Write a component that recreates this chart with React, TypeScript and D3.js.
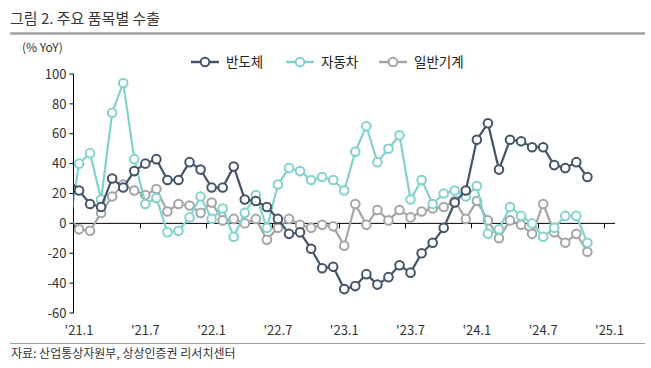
import { useEffect, useRef } from 'react';
import * as d3 from 'd3';

// months on the category axis ('20.12 is only the clipped lead-in point)
const months = [
  '20.12',
  '21.1', '21.2', '21.3', '21.4', '21.5', '21.6', '21.7', '21.8', '21.9', '21.10', '21.11', '21.12',
  '22.1', '22.2', '22.3', '22.4', '22.5', '22.6', '22.7', '22.8', '22.9', '22.10', '22.11', '22.12',
  '23.1', '23.2', '23.3', '23.4', '23.5', '23.6', '23.7', '23.8', '23.9', '23.10', '23.11', '23.12',
  '24.1', '24.2', '24.3', '24.4', '24.5', '24.6', '24.7', '24.8', '24.9', '24.10', '24.11', '24.12',
  '25.1',
];

const tickMonths = ['21.1', '21.7', '22.1', '22.7', '23.1', '23.7', '24.1', '24.7', '25.1'];
const tickLabels = ["'21.1", "'21.7", "'22.1", "'22.7", "'23.1", "'23.7", "'24.1", "'24.7", "'25.1"];
const yTicks = [-60, -40, -20, 0, 20, 40, 60, 80, 100];

// % YoY, '20.12 ~ '24.11
const semis = [
  30, 22, 13, 11, 30, 24, 35, 40, 43, 29, 29, 41, 36,
  24, 24, 38, 16, 15, 11, 3, -7, -6, -17, -30, -29,
  -44, -42, -34, -41, -36, -28, -33, -20, -13, -3, 14, 22,
  56, 67, 36, 56, 55, 51, 51, 39, 37, 41, 31,
];
const autos = [
  -9, 40, 47, 16, 74, 94, 43, 13, 17, -6, -5, 4, 18,
  3, 10, -9, 7, 19, -3, 26, 37, 35, 29, 31, 29,
  22, 48, 65, 41, 50, 59, 16, 29, 13, 20, 22, 18,
  25, -7, -4, 11, 5, 0, -9, -3, 5, 5, -13,
];
const machinery = [
  5, -4, -5, 7, 18, 26, 22, 19, 23, 8, 13, 12, 7,
  14, 2, 3, 0, 3, -11, -3, 3, -1, -3, -1, -2,
  -15, 13, -1, 9, 2, 9, 4, 8, 10, 11, 15, 3,
  15, 2, -10, 2, -1, -7, 13, -6, -13, -7, -19,
];

const seriesNames = ['반도체', '자동차', '일반기계'];
const seriesColors = ['#44546a', '#82d2cd', '#a5a5a5'];
const seriesValues = [semis, autos, machinery];

const FONT = "'Noto Sans CJK KR', 'Noto Sans', sans-serif";

export default function App() {
  const svgRef = useRef<SVGSVGElement>(null);

  useEffect(() => {
    if (!svgRef.current) return;
    const width = 651;
    const height = 368;
    const left = 73.5;
    const right = 615;
    const top = 74;
    const bottom = 313;

    const svg = d3.select(svgRef.current);
    svg.selectAll('*').remove();
    svg.attr('width', width).attr('height', height).attr('viewBox', `0 0 ${width} ${height}`);

    const bw = (right - left) / (months.length - 1);
    const x = d3.scaleBand<string>().domain(months).range([left - bw, right]);
    const cx = (m: string) => (x(m) ?? 0) + x.bandwidth() / 2;
    const y = d3.scaleLinear().domain([-60, 100]).range([bottom, top]);

    // header
    svg.append('text')
      .attr('x', 10).attr('y', 24)
      .attr('font-family', FONT).attr('font-size', 15).attr('fill', '#3a3a3a')
      .text('그림 2. 주요 품목별 수출');
    svg.append('line')
      .attr('x1', 10).attr('x2', 645).attr('y1', 33.5).attr('y2', 33.5)
      .attr('stroke', '#a0a0a0').attr('stroke-width', 2.5);
    svg.append('text')
      .attr('x', 22).attr('y', 52)
      .attr('font-family', FONT).attr('font-size', 12).attr('fill', '#333')
      .text('(% YoY)');

    // legend
    const legendX = [191, 286, 379];
    seriesNames.forEach((name, i) => {
      const lg = svg.append('g').attr('transform', `translate(${legendX[i]},62)`);
      lg.append('line').attr('x1', 0).attr('x2', 28).attr('stroke', seriesColors[i]).attr('stroke-width', 2.5);
      lg.append('circle').attr('cx', 14).attr('r', 4.3)
        .attr('fill', '#fff').attr('stroke', seriesColors[i]).attr('stroke-width', 2);
      lg.append('text').attr('x', 35).attr('dy', '0.35em')
        .attr('font-family', FONT).attr('font-size', 13.5).attr('fill', '#222')
        .text(name);
    });

    // y axis
    svg.append('line')
      .attr('x1', left).attr('x2', left).attr('y1', y(100)).attr('y2', y(-60))
      .attr('stroke', '#000').attr('stroke-width', 1);
    const yt = svg.append('g').selectAll('g').data(yTicks).join('g')
      .attr('transform', (d) => `translate(0,${y(d)})`);
    yt.append('line').attr('x1', left - 4).attr('x2', left).attr('stroke', '#000');
    yt.append('text')
      .attr('x', left - 7).attr('dy', '0.36em').attr('text-anchor', 'end')
      .attr('font-family', FONT).attr('font-size', 13).attr('fill', '#333')
      .text((d) => d);

    // x axis at zero
    svg.append('line')
      .attr('x1', left).attr('x2', right).attr('y1', y(0)).attr('y2', y(0))
      .attr('stroke', '#000').attr('stroke-width', 1);
    svg.append('g').selectAll('line').data(tickMonths).join('line')
      .attr('x1', (d) => Math.round(x(d) ?? 0) + 0.5)
      .attr('x2', (d) => Math.round(x(d) ?? 0) + 0.5)
      .attr('y1', y(0)).attr('y2', y(0) + 5)
      .attr('stroke', '#000');
    svg.append('g').selectAll('text').data(tickMonths).join('text')
      .attr('x', (d) => cx(d)).attr('y', 335)
      .attr('text-anchor', 'middle')
      .attr('font-family', FONT).attr('font-size', 13).attr('fill', '#333')
      .text((_, i) => tickLabels[i]);

    // series
    svg.append('defs').append('clipPath').attr('id', 'plot-clip')
      .append('rect').attr('x', left).attr('y', 0).attr('width', width - left).attr('height', height);
    const plot = svg.append('g').attr('clip-path', 'url(#plot-clip)');
    const line = d3.line<number>().x((_, i) => cx(months[i])).y((d) => y(d));

    [2, 1, 0].forEach((s) => {
      const vals = seriesValues[s];
      plot.append('path').datum(vals)
        .attr('d', line)
        .attr('fill', 'none').attr('stroke', seriesColors[s]).attr('stroke-width', 2.2);
      plot.append('g').selectAll('circle').data(vals).join('circle')
        .attr('cx', (_, i) => cx(months[i]))
        .attr('cy', (d) => y(d))
        .attr('r', 4.3)
        .attr('fill', '#fff').attr('stroke', seriesColors[s]).attr('stroke-width', 2);
    });

    // footer
    svg.append('line')
      .attr('x1', 10).attr('x2', 645).attr('y1', 343.5).attr('y2', 343.5)
      .attr('stroke', '#a0a0a0').attr('stroke-width', 1);
    svg.append('text')
      .attr('x', 11).attr('y', 358)
      .attr('font-family', FONT).attr('font-size', 12).attr('fill', '#333')
      .text('자료: 산업통상자원부, 상상인증권 리서치센터');
  }, []);

  return (
    <div style={{ position: 'absolute', left: 0, top: 0, width: 651, height: 368, background: '#fff' }}>
      <svg ref={svgRef} />
    </div>
  );
}
